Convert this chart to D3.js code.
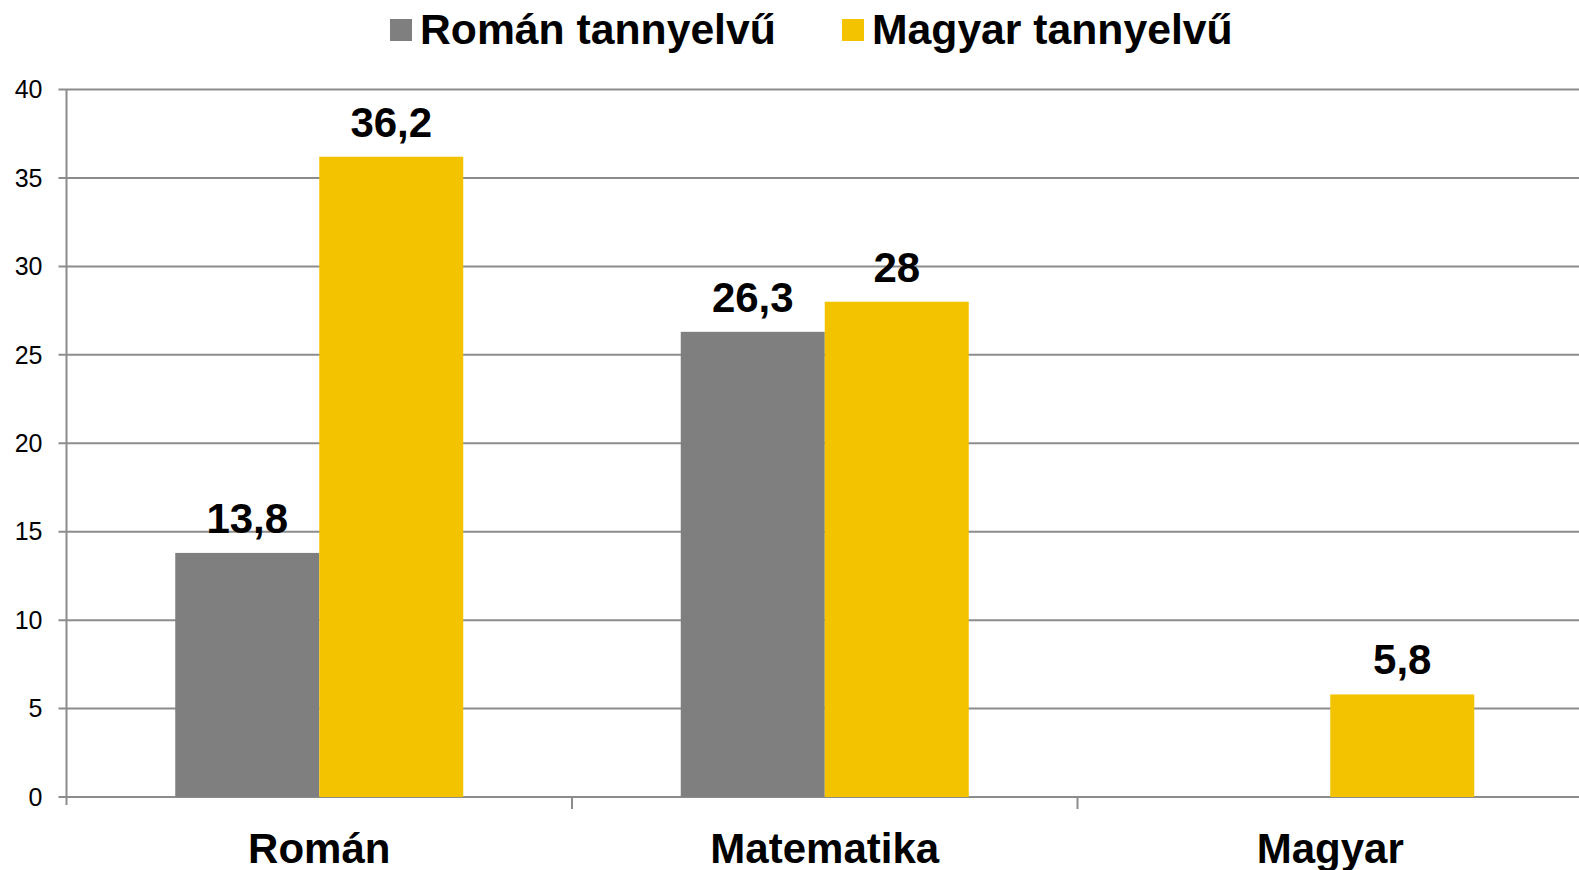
<!DOCTYPE html>
<html>
<head>
<meta charset="utf-8">
<script src="https://cdn.jsdelivr.net/npm/d3@7"></script>
<style>
  body { margin: 0; background: #fff; }
  text { font-family: "Liberation Sans", Arial, sans-serif; }
</style>
</head>
<body>
<script>
var categories = ["Román", "Matematika", "Magyar"];
var seriesNames = ["Román tannyelvű", "Magyar tannyelvű"];
var romanValues = [13.8, 26.3, null];
var magyarValues = [36.2, 28, 5.8];
var labelTexts = [["13,8", "26,3", ""], ["36,2", "28", "5,8"]];
var yTicks = [0, 5, 10, 15, 20, 25, 30, 35, 40];
var colors = ["#7f7f7f", "#f3c300"];

var width = 1579, height = 870;
var left = 66.5, bandW = 505.5;

var svg = d3.select("body")
  .append("svg")
    .attr("width", width)
    .attr("height", height)

var x0 = d3.scaleBand().domain(categories).range([left, left + bandW * 3])
var x1 = d3.scaleBand().domain(seriesNames).range([108.75, bandW - 108.75])
var y = d3.scaleLinear().domain([0, 40]).range([797, 89.5])

// gridlines
svg.append("g").selectAll("line").data(yTicks).enter().append("line")
  .attr("x1", left - 8).attr("x2", width)
  .attr("y1", d => y(d)).attr("y2", d => y(d))
  .style("stroke", "#8c8c8c").style("stroke-width", 2)

// y axis line
svg.append("line").attr("x1", left).attr("x2", left)
  .attr("y1", y(40)).attr("y2", y(0) + 8)
  .style("stroke", "#8c8c8c").style("stroke-width", 2)

// y tick labels
svg.append("g").selectAll("text").data(yTicks).enter().append("text")
  .attr("x", 42.5).attr("y", d => y(d))
  .attr("dy", "0.35em")
  .attr("text-anchor", "end")
  .style("font-size", "25px")
  .text(d => d)

// category separator ticks
svg.append("g").selectAll("line").data(categories.slice(1)).enter().append("line")
  .attr("x1", d => x0(d)).attr("x2", d => x0(d))
  .attr("y1", y(0)).attr("y2", y(0) + 12)
  .style("stroke", "#8c8c8c").style("stroke-width", 2)

// bars
var series = [romanValues, magyarValues];
series.forEach(function(vals, s) {
  var g = svg.append("g");
  var data = categories.map((c, i) => ({cat: c, v: vals[i], label: labelTexts[s][i]})).filter(d => d.v != null);
  g.selectAll("rect").data(data).enter().append("rect")
    .attr("x", d => x0(d.cat) + x1(seriesNames[s]))
    .attr("width", x1.bandwidth())
    .attr("y", d => y(d.v))
    .attr("height", d => y(0) - y(d.v))
    .style("fill", colors[s])
  g.selectAll("text").data(data).enter().append("text")
    .attr("x", d => x0(d.cat) + x1(seriesNames[s]) + x1.bandwidth() / 2)
    .attr("y", d => y(d.v) - 20)
    .attr("text-anchor", "middle")
    .style("font-size", "42px").style("font-weight", "bold")
    .text(d => d.label)
});

// category labels
svg.append("g").selectAll("text").data(categories).enter().append("text")
  .attr("x", d => x0(d) + bandW / 2)
  .attr("y", 863)
  .attr("text-anchor", "middle")
  .style("font-size", "42px").style("font-weight", "bold")
  .text(d => d)

// Legend
var legendX = [390, 842];
seriesNames.forEach(function(name, i) {
  svg.append("rect").attr("x", legendX[i]).attr("y", 19).attr("width", 22).attr("height", 22).style("fill", colors[i])
  svg.append("text").attr("x", legendX[i] + 30).attr("y", 43.5).text(name)
    .style("font-size", "42.7px").style("font-weight", "bold")
});
</script>
</body>
</html>
